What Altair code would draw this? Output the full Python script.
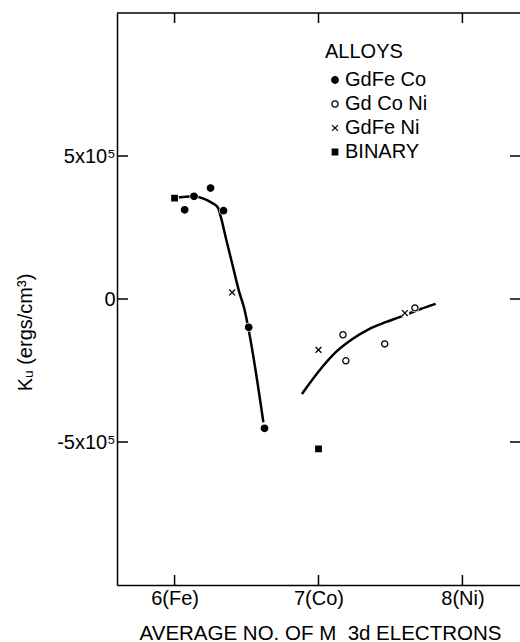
import altair as alt
import pandas as pd

# ---- data ----
gdfeco_x = [6.07, 6.135, 6.25, 6.34, 6.515, 6.625]
gdfeco_k = [3.12e5, 3.59e5, 3.88e5, 3.09e5, -0.99e5, -4.52e5]

gdconi_x = [7.17, 7.19, 7.46, 7.67]
gdconi_k = [-1.25e5, -2.16e5, -1.57e5, -0.31e5]

gdfeni_x = [6.40, 7.00, 7.60]
gdfeni_k = [0.23e5, -1.78e5, -0.49e5]

binary_x = [6.00, 7.00]
binary_k = [3.53e5, -5.24e5]

curve1_x = [6.0, 6.134, 6.196, 6.254, 6.30, 6.324, 6.358, 6.404, 6.45, 6.485, 6.52, 6.617]
curve1_k = [3.53e5, 3.59e5, 3.52e5, 3.38e5, 3.21e5, 2.82e5, 2.10e5, 1.16e5, 0.23e5, -0.35e5, -1.22e5, -4.31e5]

curve2_x = [6.885, 7.005, 7.12, 7.236, 7.351, 7.467, 7.559, 7.71, 7.814]
curve2_k = [-3.32e5, -2.51e5, -1.86e5, -1.40e5, -1.05e5, -0.81e5, -0.64e5, -0.35e5, -0.17e5]

x_ticks = [6, 7, 8]
y_ticks = [-5e5, 0, 5e5]

series_names = ["GdFe Co", "Gd Co Ni", "GdFe Ni", "BINARY"]

# ---- tables ----
pts = pd.concat([
    pd.DataFrame({"x": gdfeco_x, "k": gdfeco_k, "s": series_names[0]}),
    pd.DataFrame({"x": gdconi_x, "k": gdconi_k, "s": series_names[1]}),
    pd.DataFrame({"x": gdfeni_x, "k": gdfeni_k, "s": series_names[2]}),
    pd.DataFrame({"x": binary_x, "k": binary_k, "s": series_names[3]}),
], ignore_index=True)

curves = pd.concat([
    pd.DataFrame({"x": curve1_x, "k": curve1_k, "c": "a"}),
    pd.DataFrame({"x": curve2_x, "k": curve2_k, "c": "b"}),
], ignore_index=True)

xt = pd.DataFrame({"x": x_ticks})
yt = pd.DataFrame({"k": y_ticks})

W, H = 403, 572
FONT = "Liberation Sans"

xs = alt.Scale(domain=[5.6, 8.4], nice=False, zero=False)
ys = alt.Scale(domain=[-1e6, 1e6], nice=False, zero=False)

xaxis = alt.Axis(
    values=x_ticks,
    labelExpr="datum.value == 6 ? '6(Fe)' : datum.value == 7 ? '7(Co)' : '8(Ni)'",
    ticks=False, tickSize=0, grid=False,
    domain=True, domainColor="black", domainWidth=1.5,
    labelFont=FONT, labelFontSize=20, labelColor="black",
    labelBaseline="alphabetic", labelPadding=19, labelFlush=False, labelOverlap=False,
    title="AVERAGE NO. OF M\u00a0 3d ELECTRONS",
    titleFont=FONT, titleFontSize=20.5, titleFontWeight="normal", titleColor="black",
    titleBaseline="alphabetic", titleY=54, titleX=203,
)
yaxis = alt.Axis(
    values=y_ticks,
    labelExpr="datum.value == 0 ? '0' : (datum.value > 0 ? '5x10\u2075' : '-5x10\u2075')",
    ticks=False, tickSize=0, grid=False,
    domain=True, domainColor="black", domainWidth=1.5,
    labelFont=FONT, labelFontSize=20, labelColor="black",
    labelPadding=2, labelFlush=False, labelOverlap=False,
    title="K\u1d64 (ergs/cm\u00b3)",
    titleFont=FONT, titleFontSize=20, titleFontWeight="normal", titleColor="black",
    titleAngle=270, titleAlign="center", titleBaseline="middle",
    titleX=-92, titleY=319,
)

X = lambda f: alt.X(f, type="quantitative", scale=xs, axis=xaxis)
Y = lambda f: alt.Y(f, type="quantitative", scale=ys, axis=yaxis)

# frame top line
top_line = alt.Chart(xt.head(1)).mark_rule(color="black", strokeWidth=1.5).encode(
    x=alt.value(0), x2=alt.value(W), y=alt.value(0)
)

top_ticks = alt.Chart(xt).mark_rule(color="black", strokeWidth=1.5).encode(
    x=X("x"), y=alt.value(0), y2=alt.value(10)
)
bot_ticks = alt.Chart(xt).mark_rule(color="black", strokeWidth=1.5).encode(
    x=X("x"), y=alt.value(H), y2=alt.value(H - 10)
)
left_ticks = alt.Chart(yt).mark_rule(color="black", strokeWidth=1.5).encode(
    y=Y("k"), x=alt.value(0), x2=alt.value(11)
)
right_ticks = alt.Chart(yt).mark_rule(color="black", strokeWidth=1.5).encode(
    y=Y("k"), x=alt.value(W - 10), x2=alt.value(W)
)

lines = alt.Chart(curves).mark_line(color="black", strokeWidth=2.5, interpolate="monotone").encode(
    x=X("x"), y=Y("k"), detail="c:N"
)

halos = alt.Chart(pts).mark_point(filled=True, color="white", opacity=1, size=80).encode(
    x=X("x"), y=Y("k")
)

cross = "M-1,-1L1,1M1,-1L-1,1"
leg = alt.Legend(title="ALLOYS")
points = alt.Chart(pts).mark_point(strokeWidth=1.3, opacity=1, fillOpacity=1, strokeOpacity=1).encode(
    x=X("x"), y=Y("k"),
    shape=alt.Shape("s:N", scale=alt.Scale(domain=series_names, range=["circle", "circle", cross, "square"]),
                    legend=leg),
    fill=alt.Fill("s:N", scale=alt.Scale(domain=series_names, range=["black", "white", "transparent", "black"]),
                  legend=leg),
    stroke=alt.Stroke("s:N", scale=alt.Scale(domain=series_names, range=["black", "black", "black", "black"]),
                      legend=leg),
    size=alt.Size("s:N", scale=alt.Scale(domain=series_names, range=[42, 30, 36, 45]),
                  legend=leg),
)

chart = alt.layer(top_line, top_ticks, bot_ticks, left_ticks, right_ticks, lines, halos, points).properties(
    width=W, height=H,
    autosize=alt.AutoSizeParams(type="none"),
    padding={"left": 117, "top": 13, "right": 0, "bottom": 57},
    background="white",
).configure_view(stroke=None).configure_legend(
    orient="none", legendX=208, legendY=29,
    titleFont=FONT, titleFontSize=20, titleFontWeight="normal", titleColor="black",
    titlePadding=8,
    labelFont=FONT, labelFontSize=20, labelColor="black", labelOffset=0,
    rowPadding=4, padding=0,
    symbolStrokeWidth=1.3, symbolOpacity=1,
)

chart.save("out.html", embed_options={"renderer": "svg", "actions": False})
